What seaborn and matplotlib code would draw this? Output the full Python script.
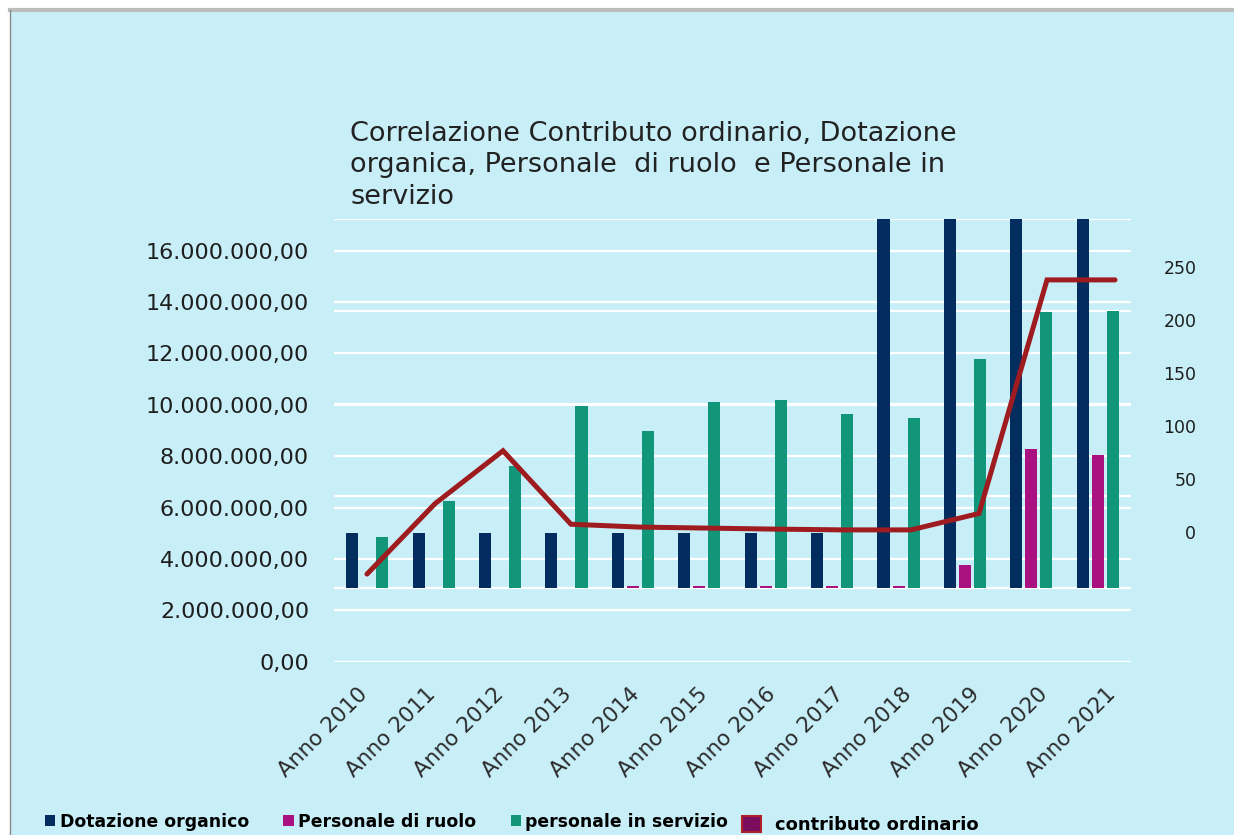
import numpy as np
import pandas as pd
import matplotlib
matplotlib.use("Agg")
import matplotlib.pyplot as plt
import seaborn as sns
from matplotlib.patches import Rectangle, Patch
from matplotlib.lines import Line2D
from matplotlib.ticker import FuncFormatter

# ---------------- data ----------------
anni = ["Anno 2010", "Anno 2011", "Anno 2012", "Anno 2013", "Anno 2014", "Anno 2015",
        "Anno 2016", "Anno 2017", "Anno 2018", "Anno 2019", "Anno 2020", "Anno 2021"]
dotazione_organico = [30, 30, 30, 30, 30, 30, 30, 30, 250, 250, 250, 250]
personale_di_ruolo = [np.nan, np.nan, np.nan, np.nan, 1.4, 1.4, 1.4, 1.4, 1.4, 12.6, 75.3, 72.2]
personale_in_servizio = [27.9, 47.1, 66.1, 98.8, 85.0, 100.9, 102.0, 94.3, 92.1, 124.1, 149.8, 150.0]
contributo_ordinario = [3.41e6, 6.15e6, 8.21e6, 5.35e6, 5.24e6, 5.20e6, 5.16e6, 5.13e6,
                        5.13e6, 5.77e6, 14.86e6, 14.86e6]
serie = ["Dotazione organico", "Personale di ruolo", "personale in servizio"]
left_ticks = [0, 2e6, 4e6, 6e6, 8e6, 10e6, 12e6, 14e6, 16e6]
right_ticks = [0, 50, 100, 150, 200, 250]
bar_grid = [0, 50, 100, 150, 200]
titolo = ("Correlazione Contributo ordinario, Dotazione\n"
          "organica, Personale  di ruolo  e Personale in\n"
          "servizio")

# ---------------- style ----------------
BG = "#C8EFF8"
NAVY = "#032D5E"
MAGENTA = "#A8117F"
TEAL = "#11967A"
LINE = "#9E1B1F"
TXT = "#1E1E1E"
FONT = "DejaVu Sans"
plt.rcParams["font.family"] = [FONT]

W, H = 1234, 835
fig = plt.figure(figsize=(W / 100, H / 100), dpi=100, facecolor="white")

# background panel (screenshot frame)
fig.patches.append(Rectangle((10 / W, 0), 1 - 10 / W, 1 - 10 / H, transform=fig.transFigure,
                             facecolor=BG, edgecolor="none", zorder=-10))
fig.add_artist(Line2D([10 / W, 1], [1 - 10 / H, 1 - 10 / H], transform=fig.transFigure,
                      color="#BDBDBD", lw=3, zorder=-9))
fig.add_artist(Line2D([9.5 / W, 9.5 / W], [0, 1 - 10 / H], transform=fig.transFigure,
                      color="#8A8A8A", lw=1, zorder=-9))

x0, x1 = 334, 1131
y_top, y_bot = 219, 661.7
rect = [x0 / W, 1 - y_bot / H, (x1 - x0) / W, (y_bot - y_top) / H]

def fmt_it(v, pos=None):
    s = f"{v:,.2f}"
    return s.replace(",", "X").replace(".", ",").replace("X", ".")

def clean(a):
    for s in a.spines.values():
        s.set_visible(False)

# ---- main axis (left scale) ----
ax = fig.add_axes(rect, facecolor="none")
ax.set_ylim(0, 17.23e6)
ax.set_xlim(-0.5, 11.5)
ax.set_yticks(left_ticks)
ax.yaxis.set_major_formatter(FuncFormatter(fmt_it))
ax.tick_params(axis="y", length=0, pad=18, labelsize=16, labelcolor=TXT)
ax.tick_params(axis="x", bottom=False, labelbottom=False)
ax.yaxis.grid(True, color="white", lw=1.6)
ax.set_axisbelow(True)
clean(ax)

# ---- bars axis (hidden scale, baseline raised) ----
ax_b = ax.twinx()
df = pd.DataFrame({
    "anno": anni * 3,
    "serie": [serie[0]] * 12 + [serie[1]] * 12 + [serie[2]] * 12,
    "valore": dotazione_organico + personale_di_ruolo + personale_in_servizio,
})
sns.barplot(data=df, x="anno", y="valore", hue="serie", hue_order=serie,
            palette=[NAVY, MAGENTA, TEAL], saturation=1, width=0.68, gap=0.2,
            errorbar=None, legend=False, ax=ax_b, zorder=3)
ax_b.set_xlim(-0.5, 11.5)
ax_b.set_ylim(-39.76, 200.05)
ax_b.set_yticks(bar_grid)
ax_b.yaxis.grid(True, color="white", lw=1.6)
ax_b.set_axisbelow(True)
ax_b.tick_params(left=False, right=False, labelleft=False, labelright=False,
                 bottom=False, labelbottom=False)
ax_b.set_xlabel("")
ax_b.set_ylabel("")
clean(ax_b)

# ---- line axis (own category spacing) ----
ax_l = fig.add_axes(rect, facecolor="none")
xi = np.arange(len(anni))
sns.lineplot(x=xi, y=contributo_ordinario, color=LINE, lw=3.6, ax=ax_l,
             solid_capstyle="round", solid_joinstyle="miter")
ax_l.set_xlim(-0.485, 11.235)
ax_l.set_ylim(0, 17.23e6)
ax_l.tick_params(left=False, labelleft=False, bottom=False, labelbottom=False)
clean(ax_l)

# ---- category labels axis ----
ax_x = fig.add_axes(rect, facecolor="none")
shift = 10 / 68
ax_x.set_xlim(-0.485 + shift, 11.235 + shift)
ax_x.set_xticks(xi)
ax_x.set_xticklabels(anni, rotation=45, ha="right", va="top", rotation_mode="anchor",
                     fontsize=15.5, color="#2A2A2A")
ax_x.tick_params(axis="x", length=0, pad=16)
ax_x.tick_params(axis="y", left=False, labelleft=False)
clean(ax_x)

# ---- right axis labels ----
ax_r = fig.add_axes(rect, facecolor="none")
ax_r.set_ylim(-122.6, 295)
ax_r.set_yticks(right_ticks)
ax_r.yaxis.tick_right()
ax_r.tick_params(axis="y", length=0, pad=47, labelsize=12.5, labelcolor=TXT)
for lab in ax_r.get_yticklabels():
    lab.set_horizontalalignment("right")
ax_r.tick_params(axis="x", bottom=False, labelbottom=False)
clean(ax_r)

# ---- title ----
fig.text(350 / W, 1 - 121 / H, titolo, ha="left", va="top", fontsize=19.5,
         color="#222222", linespacing=1.27)

# ---- legends ----
h1 = [Patch(facecolor=NAVY, label=serie[0]),
      Patch(facecolor=MAGENTA, label=serie[1]),
      Patch(facecolor=TEAL, label=serie[2])]
fig.legend(handles=h1, loc="center left", bbox_to_anchor=(45 / W, 1 - 822 / H), ncol=3,
           frameon=False, prop={"family": FONT, "weight": "bold", "size": 12.4},
           handlelength=0.6, handleheight=0.6, handletextpad=0.25,
           columnspacing=2.0, borderpad=0, borderaxespad=0)
h2 = [Patch(facecolor="#7B0D5E", edgecolor="#B0202A", lw=1.5, label="contributo ordinario")]
fig.legend(handles=h2, loc="center left", bbox_to_anchor=(742 / W, 1 - 825 / H),
           frameon=False, prop={"family": FONT, "weight": "bold", "size": 12.9},
           handlelength=1.05, handleheight=1.05, handletextpad=0.8,
           borderpad=0, borderaxespad=0)

fig.savefig("out.png", dpi=100, facecolor="white")
